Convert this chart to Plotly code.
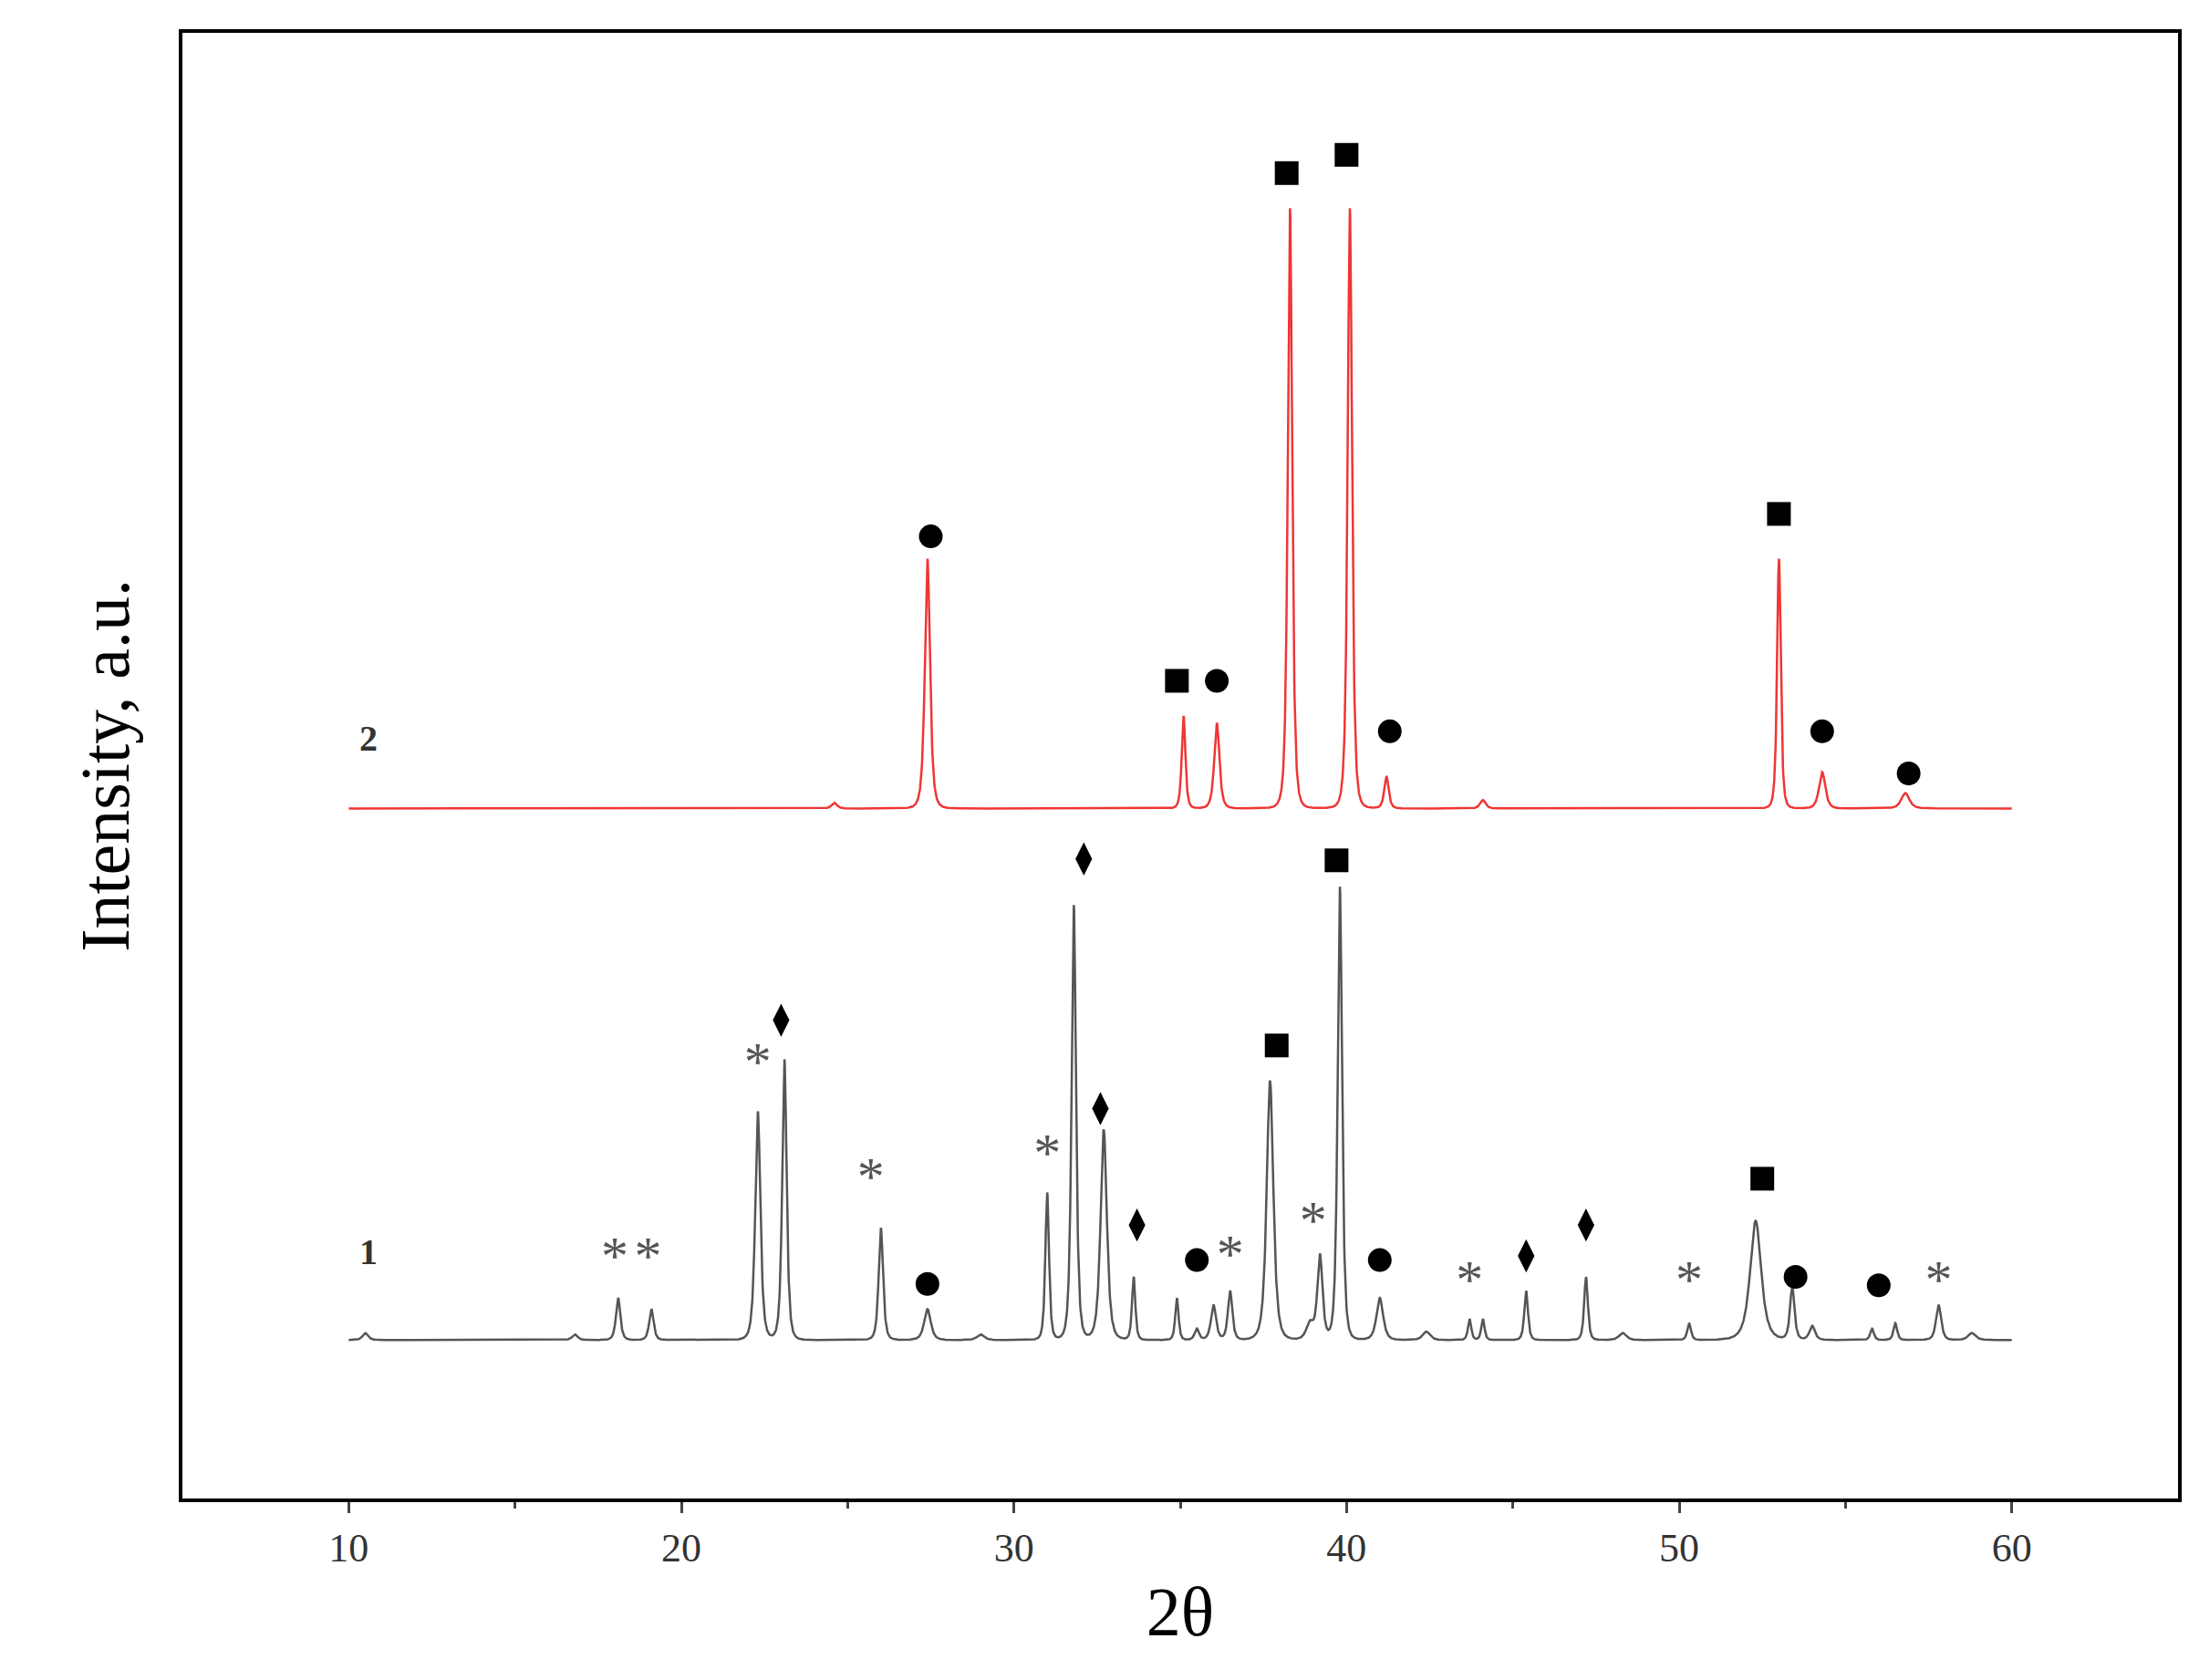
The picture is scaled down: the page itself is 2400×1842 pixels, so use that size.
import numpy as np
import plotly.graph_objects as go

# peak lists (2theta, height above baseline, half width)
base1 = 113
pos1 = [10.5, 16.8, 18.1, 19.1, 22.3, 23.1, 26.0, 27.4, 29.0, 31.0, 31.8, 32.7, 33.6, 34.9, 35.5, 36.0, 36.5,
        37.7, 38.9, 39.2, 39.8, 41.0, 42.4, 43.7, 44.1, 45.4, 47.2, 48.3, 50.3, 52.3, 53.4, 54.0, 55.8, 56.5, 57.8, 58.8]
hgt1 = [5, 4, 30, 22, 163, 200, 80, 22, 4, 105, 310, 150, 45, 30, 8, 25, 35,
        185, 12, 60, 323, 30, 6, 15, 15, 35, 45, 5, 12, 85, 38, 10, 8, 12, 25, 5]
wid1 = [0.15, 0.15, 0.12, 0.12, 0.14, 0.12, 0.12, 0.18, 0.2, 0.1, 0.12, 0.17, 0.09, 0.09, 0.12, 0.14, 0.12,
        0.18, 0.2, 0.14, 0.12, 0.18, 0.2, 0.09, 0.09, 0.1, 0.1, 0.2, 0.1, 0.3, 0.12, 0.15, 0.1, 0.1, 0.14, 0.2]

base2 = 492
pos2 = [24.6, 27.4, 35.1, 36.1, 38.3, 40.1, 41.2, 44.1, 53.0, 54.3, 56.8]
hgt2 = [4, 178, 66, 61, 428, 428, 23, 6, 178, 26, 11]
wid2 = [0.15, 0.14, 0.1, 0.14, 0.12, 0.12, 0.12, 0.15, 0.1, 0.17, 0.22]

# phase markers: (2theta, y, symbol)
mk_x = [27.5, 34.9, 36.1, 38.2, 40.0, 41.3, 53.0, 54.3, 56.9,
        27.4, 35.5, 41.0, 53.5, 56.0, 37.9, 39.7, 52.5,
        23.0, 32.1, 32.6, 33.7, 45.4, 47.2]
mk_y = [686, 583, 583, 945, 958, 547, 702, 547, 517,
        153, 170, 170, 158, 152, 323, 455, 228,
        341, 456, 278, 195, 173, 195]
mk_s = ["circle", "square", "circle", "square", "square", "circle", "square", "circle", "circle",
        "circle", "circle", "circle", "circle", "circle", "square", "square", "square",
        "diamond-tall", "diamond-tall", "diamond-tall", "diamond-tall", "diamond-tall", "diamond-tall"]
star_x = [18.0, 19.0, 22.3, 25.7, 31.0, 36.5, 39.0, 43.7, 50.3, 57.8]
star_y = [170, 170, 308, 226, 243, 171, 195, 153, 153, 153]

x = np.linspace(10, 60, 5001)


def profile(base, pos, hgt, wid):
    y = np.full_like(x, float(base))
    for p, h, w in zip(pos, hgt, wid):
        y += h / (1 + ((x - p) / w) ** 2) ** 2
    return y


fig = go.Figure()
fig.add_trace(go.Scatter(x=x, y=profile(base1, pos1, hgt1, wid1), mode="lines",
                         line=dict(color="#555555", width=2.5)))
fig.add_trace(go.Scatter(x=x, y=profile(base2, pos2, hgt2, wid2), mode="lines",
                         line=dict(color="#f03535", width=2.5)))
fig.add_trace(go.Scatter(x=mk_x, y=mk_y, mode="markers",
                         marker=dict(symbol=mk_s, color="black", size=26)))
fig.add_trace(go.Scatter(x=star_x, y=star_y, mode="text", text=["*"] * len(star_x),
                         textfont=dict(family="Liberation Serif", size=60, color="#555555")))

fig.add_annotation(x=10.6, y=176, text="<b>1</b>", showarrow=False,
                   font=dict(family="Liberation Serif", size=40, color="#333"))
fig.add_annotation(x=10.6, y=542, text="<b>2</b>", showarrow=False,
                   font=dict(family="Liberation Serif", size=40, color="#333"))

fig.update_layout(
    width=2400, height=1842,
    margin=dict(l=192, r=20, t=28, b=207),
    plot_bgcolor="white", paper_bgcolor="white",
    showlegend=False,
    font=dict(family="Liberation Serif", color="black"),
)
fig.update_xaxes(range=[5, 65], tickvals=[10, 20, 30, 40, 50, 60], ticks="outside", ticklen=12,
                 tickwidth=3, minor=dict(tickvals=[15, 25, 35, 45, 55], ticks="outside", ticklen=7, tickwidth=3),
                 showline=True, linecolor="black", linewidth=4, mirror=True, showgrid=False, zeroline=False,
                 tickfont=dict(size=44, color="#333"),
                 title=dict(text="2θ", font=dict(size=76), standoff=20))
fig.update_yaxes(range=[0, 1045], showticklabels=False, ticks="",
                 showline=True, linecolor="black", linewidth=4, mirror=True, showgrid=False, zeroline=False,
                 title=dict(text="Intensity, a.u.", font=dict(size=76), standoff=30))

fig.write_html("out.html")
